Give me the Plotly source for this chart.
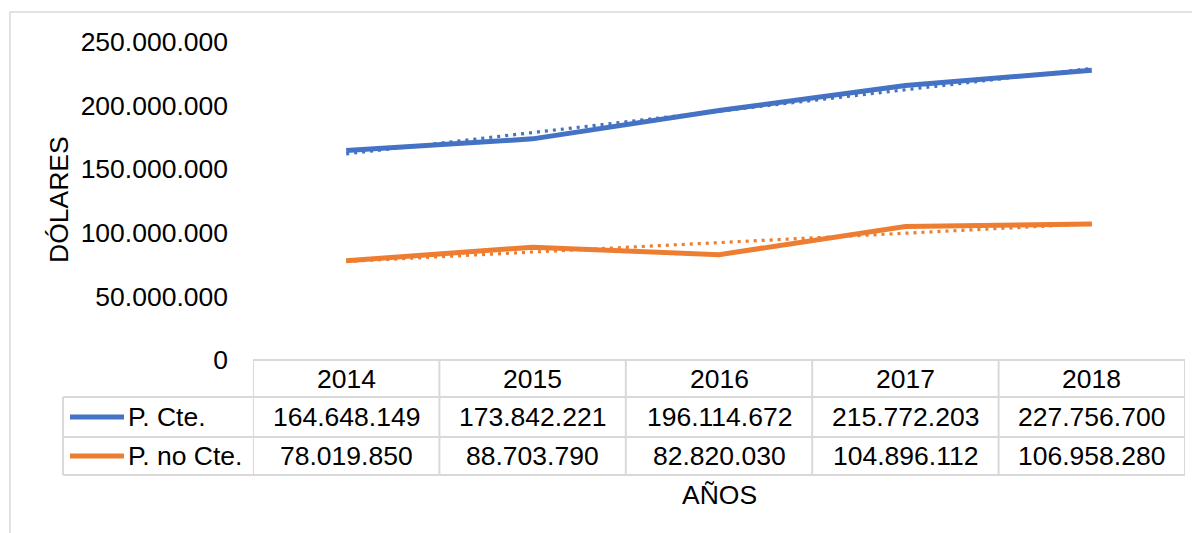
import numpy as np
import plotly.graph_objects as go

years = ["2014", "2015", "2016", "2017", "2018"]
series_names = ["P. Cte.", "P. no Cte."]
p_cte = [164648149, 173842221, 196114672, 215772203, 227756700]
p_no_cte = [78019850, 88703790, 82820030, 104896112, 106958280]
y_ticks = [0, 50000000, 100000000, 150000000, 200000000, 250000000]
y_title = "DÓLARES"
x_title = "AÑOS"
colors = ["#4472C4", "#ED7D31"]
series_values = [p_cte, p_no_cte]

W, H = 1200, 533
OFF = 8  # page body margin
# target positions in screenshot pixels
L, R, T, B = 253, 1185, 42, 360
Lf, Rf, Tf, Bf = L - OFF, R - OFF, T - OFF, B - OFF
FONT = "Liberation Sans, Arial, sans-serif"
GRID = "#D9D9D9"


def px2x(p):
    return (p - OFF - Lf) / (Rf - Lf)


def py2y(p):
    return (Bf - (p - OFF)) / (Bf - Tf)


def fmt(v):
    return f"{v:,}".replace(",", ".")


xs = list(range(len(years)))
fig = go.Figure()
for name, vals, c in zip(series_names, series_values, colors):
    fig.add_trace(go.Scatter(x=xs, y=vals, mode="lines", name=name,
                             line=dict(color=c, width=5), showlegend=False))
for name, vals, c in zip(series_names, series_values, colors):
    m, b = np.polyfit(xs, vals, 1)
    fig.add_trace(go.Scatter(x=xs, y=[m * x + b for x in xs], mode="lines",
                             name=name + " (tendencia)",
                             line=dict(color=c, width=3.2, dash="3px,5px"),
                             showlegend=False))

shapes = []
# outer chart border
shapes.append(dict(type="rect", xref="paper", yref="paper",
                   x0=px2x(10), x1=px2x(1230), y0=py2y(570), y1=py2y(12),
                   line=dict(color=GRID, width=1.5)))
# data table lines
row_lines = [360, 397, 437, 475]
for i, yy in enumerate(row_lines):
    x0 = L if i == 0 else 63
    shapes.append(dict(type="line", xref="paper", yref="paper",
                       x0=px2x(x0), x1=1, y0=py2y(yy), y1=py2y(yy),
                       line=dict(color=GRID, width=2)))
shapes.append(dict(type="line", xref="paper", yref="paper",
                   x0=px2x(63), x1=px2x(63), y0=py2y(397), y1=py2y(475),
                   line=dict(color=GRID, width=2)))
for k in range(len(years) + 1):
    shapes.append(dict(type="line", xref="x", yref="paper",
                       x0=k - 0.5, x1=k - 0.5, y0=py2y(360), y1=py2y(475),
                       line=dict(color=GRID, width=2)))

annotations = []
row_centers = [378.5, 417, 456]
for i, yr in enumerate(years):
    annotations.append(dict(x=i, xref="x", y=py2y(row_centers[0]), yref="paper",
                            text=yr, showarrow=False, xanchor="center", yanchor="middle"))
for r, (name, vals, c) in enumerate(zip(series_names, series_values, colors)):
    yc = py2y(row_centers[r + 1])
    for i, v in enumerate(vals):
        annotations.append(dict(x=i, xref="x", y=yc, yref="paper", text=fmt(v),
                                showarrow=False, xanchor="center", yanchor="middle"))
    annotations.append(dict(x=px2x(126), xref="paper", y=yc, yref="paper", text=name,
                            showarrow=False, xanchor="left", yanchor="middle"))
    shapes.append(dict(type="line", xref="paper", yref="paper",
                       x0=px2x(70), x1=px2x(124), y0=yc, y1=yc,
                       line=dict(color=c, width=5)))

annotations.append(dict(x=px2x(59), xref="paper", y=py2y(200), yref="paper",
                        text=y_title, textangle=-90, showarrow=False,
                        xanchor="center", yanchor="middle"))
annotations.append(dict(x=0.5, xref="paper", y=py2y(495), yref="paper",
                        text=x_title, showarrow=False, xanchor="center", yanchor="middle"))

fig.update_layout(
    width=W, height=H,
    margin=dict(l=Lf, r=W - Rf, t=Tf, b=H - Bf, pad=0),
    paper_bgcolor="white", plot_bgcolor="white",
    font=dict(family=FONT, size=26.5, color="#000000"),
    separators=",.",
    showlegend=False,
    shapes=shapes,
    annotations=annotations,
)
fig.update_xaxes(range=[-0.5, len(years) - 0.5], showticklabels=False, showgrid=False,
                 zeroline=False, showline=False, ticks="")
fig.update_yaxes(range=[0, 250000000], tickvals=y_ticks, tickformat=",d",
                 showgrid=False, zeroline=False, showline=False, ticks="",
                 ticklabelstandoff=24, tickfont=dict(size=26.5, color="#000000"))

fig.write_html("out.html")
